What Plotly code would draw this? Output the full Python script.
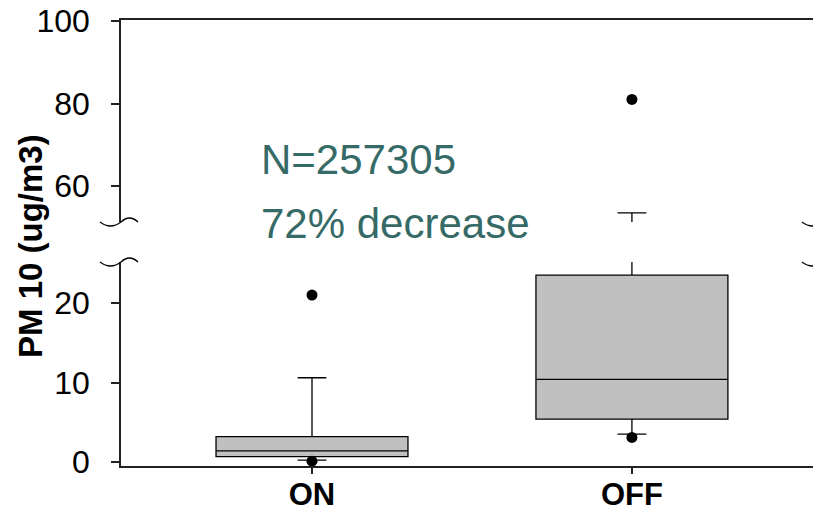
import plotly.graph_objects as go

# ---------------- data ----------------
categories = ["ON", "OFF"]
q1 = [0.67, 5.4]
median = [1.4, 10.4]
q3 = [3.2, 23.5]
lower_whisker = [0.25, 3.5]
upper_whisker = [10.6, 53.5]

outlier_x = ["ON", "ON", "OFF", "OFF"]
outlier_y = [21.0, 0.1, 81.0, 3.1]

lower_range = [-0.5, 25.16]
upper_range = [51.3, 100.24]
lower_ticks = [0, 10, 20]
upper_ticks = [60, 80, 100]
x_range = [-0.597, 1.591]

ytitle = "PM 10 (ug/m3)"
note_lines = ["N=257305", "72% decrease"]

# ---------------- layout geometry ----------------
# page body has an 8px margin, so the figure is drawn 8px right/down
OFS = 8
W, H = 821 - OFS, 511 - OFS
ML, MR, MT = 121 - OFS, 0, 20 - OFS
BOT = 466 - OFS            # x-axis line (figure px)
MB = H - BOT
plot_h = BOT - MT
low_dom = [0, (466 - 262) / plot_h]
up_dom = [(466 - 222) / plot_h, 1]

FONT = "Arial, Liberation Sans, sans-serif"
AX = "#222222"
TEAL = "#366a67"

fig = go.Figure()

box_style = dict(
    fillcolor="#c0c0c0",
    line=dict(color="black", width=1.3),
    width=0.6,
    whiskerwidth=0.15,
    boxpoints=False,
    showlegend=False,
    hoverinfo="skip",
)

for xa, ya in [("x", "y"), ("x2", "y2")]:
    fig.add_trace(go.Box(
        x=categories, q1=q1, median=median, q3=q3,
        lowerfence=lower_whisker, upperfence=upper_whisker,
        xaxis=xa, yaxis=ya, **box_style))

lo_x = [x for x, y in zip(outlier_x, outlier_y) if y <= lower_range[1]]
lo_y = [y for y in outlier_y if y <= lower_range[1]]
hi_x = [x for x, y in zip(outlier_x, outlier_y) if y >= upper_range[0]]
hi_y = [y for y in outlier_y if y >= upper_range[0]]

fig.add_trace(go.Scatter(x=lo_x, y=lo_y, mode="markers", xaxis="x", yaxis="y",
                         marker=dict(color="black", size=11), cliponaxis=False,
                         showlegend=False, hoverinfo="skip"))
fig.add_trace(go.Scatter(x=hi_x, y=hi_y, mode="markers", xaxis="x2", yaxis="y2",
                         marker=dict(color="black", size=11), cliponaxis=False,
                         showlegend=False, hoverinfo="skip"))

common_y = dict(showline=True, linecolor=AX, linewidth=1.5, ticks="outside",
                ticklen=8, tickwidth=1.5, tickcolor=AX, showgrid=False, zeroline=False,
                tickfont=dict(family=FONT, size=32, color="black"),
                ticklabelstandoff=15, automargin=False, ticklabeloverflow="allow")

fig.update_layout(
    width=W, height=H,
    margin=dict(l=ML, r=MR, t=MT, b=MB, autoexpand=False),
    paper_bgcolor="white", plot_bgcolor="white",
    xaxis=dict(domain=[0, 1], anchor="y", range=x_range, type="category",
               categoryorder="array", categoryarray=categories,
               showline=True, linecolor=AX, linewidth=1.5, ticks="outside",
               ticklen=6, tickwidth=1.5, tickcolor=AX, showgrid=False,
               automargin=False, ticklabelstandoff=-6, ticklabeloverflow="allow",
               tickfont=dict(family=FONT, size=31, color="black", weight="bold")),
    xaxis2=dict(domain=[0, 1], anchor="y2", matches="x", side="top",
                showline=True, linecolor=AX, linewidth=1.5, ticks="",
                showticklabels=False, showgrid=False, type="category",
                automargin=False),
    yaxis=dict(domain=low_dom, anchor="x", range=lower_range,
               tickvals=lower_ticks, **common_y),
    yaxis2=dict(domain=up_dom, anchor="x2", range=upper_range,
                tickvals=upper_ticks, **common_y),
)

# y-axis title
fig.add_annotation(text="<b>" + ytitle + "</b>", xref="paper", yref="paper",
                   x=0, y=0.5, xanchor="center", yanchor="middle", xshift=-91, yshift=-3,
                   textangle=-90, showarrow=False,
                   font=dict(family=FONT, size=33, color="black"))

# in-plot text
note_y = [(466 - 159.3) / plot_h, (466 - 223.3) / plot_h]
for txt, yy in zip(note_lines, note_y):
    fig.add_annotation(text=txt, xref="paper", yref="paper",
                       x=(259 - 121) / (W - ML - MR), y=yy,
                       xanchor="left", yanchor="middle", showarrow=False,
                       font=dict(family=FONT, size=42, color=TEAL))

# axis break marks
def brk(xanchor, yanchor, dx):
    path = (f"M{-21+dx},0 Q{-10.5+dx},-8 {dx},0 Q{8.5+dx},8 {17+dx},0")
    return dict(type="path", xref="paper", yref="paper", xsizemode="pixel",
                ysizemode="pixel", xanchor=xanchor, yanchor=yanchor, path=path,
                line=dict(color="black", width=1.3))

for ya in [up_dom[0], low_dom[1]]:
    fig.add_shape(**brk(0, ya, 0))
    fig.add_shape(**brk(1, ya, 2))

fig.write_html("out.html")
